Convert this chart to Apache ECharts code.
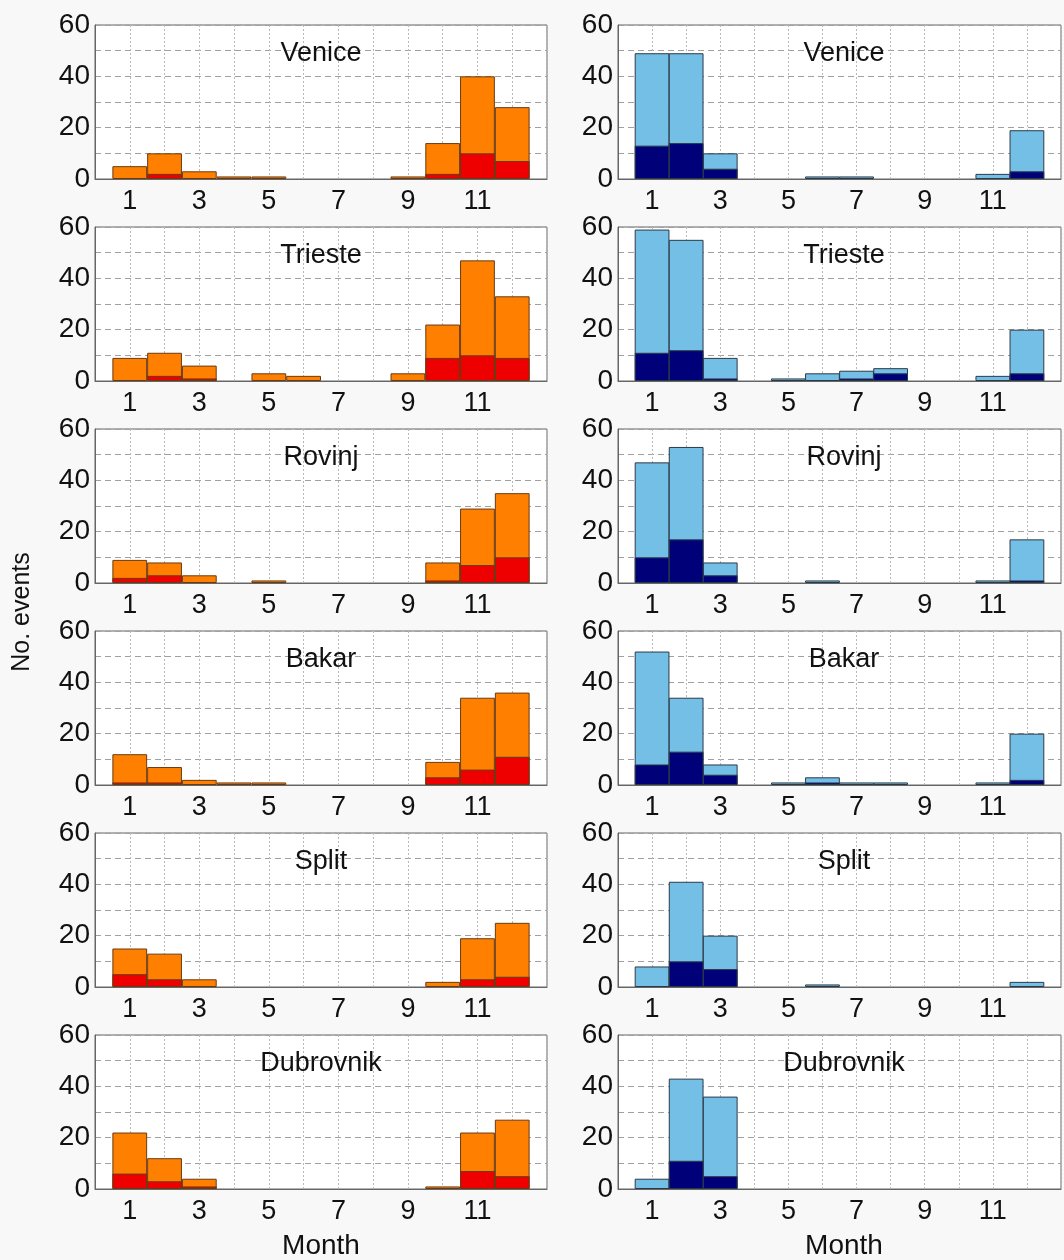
<!DOCTYPE html>
<html>
<head>
<meta charset="utf-8">
<script src="https://cdn.jsdelivr.net/npm/echarts@6/dist/echarts.min.js"></script>
<style>
html,body{margin:0;padding:0;background:#f8f8f8;}
#chart{width:1064px;height:1260px;}
</style>
</head>
<body>
<div id="chart"></div>
<script>
// ---------- DATA ----------
const months = [1,2,3,4,5,6,7,8,9,10,11,12];
const stations = ['Venice','Trieste','Rovinj','Bakar','Split','Dubrovnik'];
const xTickLabels = [1,3,5,7,9,11];
const yTickLabels = [0,20,40,60];

// left column: orange = all events, red = subset
const veniceOrange    = [5,10,3,1,1,0,0,0,1,14,40,28];
const veniceRed       = [0,2,0,0,0,0,0,0,0,2,10,7];
const triesteOrange   = [9,11,6,0,3,2,0,0,3,22,47,33];
const triesteRed      = [0,2,1,0,0,0,0,0,0,9,10,9];
const rovinjOrange    = [9,8,3,0,1,0,0,0,0,8,29,35];
const rovinjRed       = [2,3,0,0,0,0,0,0,0,1,7,10];
const bakarOrange     = [12,7,2,1,1,0,0,0,0,9,34,36];
const bakarRed        = [1,1,0,0,0,0,0,0,0,3,6,11];
const splitOrange     = [15,13,3,0,0,0,0,0,0,2,19,25];
const splitRed        = [5,3,0,0,0,0,0,0,0,0,3,4];
const dubrovnikOrange = [22,12,4,0,0,0,0,0,0,1,22,27];
const dubrovnikRed    = [6,3,1,0,0,0,0,0,0,0,7,5];

// right column: light blue = all events, navy = subset
const veniceBlue      = [49,49,10,0,0,1,1,0,0,0,2,19];
const veniceNavy      = [13,14,4,0,0,0,0,0,0,0,0,3];
const triesteBlue     = [59,55,9,0,1,3,4,5,0,0,2,20];
const triesteNavy     = [11,12,1,0,0,0,1,3,0,0,0,3];
const rovinjBlue      = [47,53,8,0,0,1,0,0,0,0,1,17];
const rovinjNavy      = [10,17,3,0,0,0,0,0,0,0,0,1];
const bakarBlue       = [52,34,8,0,1,3,1,1,0,0,1,20];
const bakarNavy       = [8,13,4,0,0,1,0,0,0,0,0,2];
const splitBlue       = [8,41,20,0,0,1,0,0,0,0,0,2];
const splitNavy       = [0,10,7,0,0,0,0,0,0,0,0,0];
const dubrovnikBlue   = [4,43,36,0,0,0,0,0,0,0,0,0];
const dubrovnikNavy   = [0,11,5,0,0,0,0,0,0,0,0,0];

const leftTotals  = [veniceOrange, triesteOrange, rovinjOrange, bakarOrange, splitOrange, dubrovnikOrange];
const leftSubs    = [veniceRed, triesteRed, rovinjRed, bakarRed, splitRed, dubrovnikRed];
const rightTotals = [veniceBlue, triesteBlue, rovinjBlue, bakarBlue, splitBlue, dubrovnikBlue];
const rightSubs   = [veniceNavy, triesteNavy, rovinjNavy, bakarNavy, splitNavy, dubrovnikNavy];

// ---------- LAYOUT ----------
const FONT = 'Liberation Sans, Arial, Helvetica, sans-serif';
const colLeft = [95, 618];
const gridW = 452;
const gridH = 154;
const rowTop = [25, 227, 429, 631, 833, 1035];
const barW = gridW / 13;

const colors = [
  {total:'#FF8000', sub:'#EE0000', edge:'#6a3a12'},
  {total:'#74BFE6', sub:'#000078', edge:'#2c3a48'}
];

const grids = [], xAxes = [], yAxes = [], series = [], graphics = [];
let idx = 0;
for (let c = 0; c < 2; c++) {
  for (let r = 0; r < 6; r++) {
    grids.push({left: colLeft[c], top: rowTop[r], width: gridW, height: gridH,
      show: true, backgroundColor: '#ffffff', borderColor: '#666', borderWidth: 1});
    xAxes.push({type: 'value', gridIndex: idx, min: 0, max: 13, interval: 1,
      axisLine: {show: true, lineStyle: {color: '#666', width: 1}},
      axisTick: {show: false},
      axisLabel: {fontSize: 27, color: '#111', fontFamily: FONT, margin: 9,
        formatter: v => xTickLabels.indexOf(v) >= 0 ? String(v) : ''},
      splitLine: {show: true, lineStyle: {color: '#b8b8b8', type: [2, 2], width: 1}}
    });
    yAxes.push({type: 'value', gridIndex: idx, min: 0, max: 60, interval: 10,
      axisLine: {show: true, lineStyle: {color: '#666', width: 1}},
      axisTick: {show: false},
      axisLabel: {fontSize: 28, color: '#111', fontFamily: FONT, margin: 5,
        formatter: v => yTickLabels.indexOf(v) >= 0 ? String(v) : ''},
      splitLine: {show: true, lineStyle: {color: '#a0a0a0', type: [6, 4], width: 1}}
    });
    const tot = c === 0 ? leftTotals[r] : rightTotals[r];
    const sub = c === 0 ? leftSubs[r] : rightSubs[r];
    const col = colors[c];
    series.push({type: 'bar', xAxisIndex: idx, yAxisIndex: idx, barWidth: barW, barGap: '-100%',
      data: months.map((m, k) => [m, tot[k] > 0 ? tot[k] : null]),
      itemStyle: {color: col.total, borderColor: col.edge, borderWidth: 1}, silent: true, animation: false});
    series.push({type: 'bar', xAxisIndex: idx, yAxisIndex: idx, barWidth: barW, barGap: '-100%',
      data: months.map((m, k) => [m, sub[k] > 0 ? sub[k] : null]),
      itemStyle: {color: col.sub, borderColor: col.edge, borderWidth: 1}, silent: true, animation: false});
    graphics.push({type: 'text', x: colLeft[c] + gridW / 2, y: rowTop[r] + 29, z: 100,
      style: {text: stations[r], fill: '#111', font: '27px ' + FONT, textAlign: 'center', textVerticalAlign: 'middle'}});
    idx++;
  }
  graphics.push({type: 'text', x: colLeft[c] + gridW / 2, y: 1246,
    style: {text: 'Month', fill: '#111', font: '28px ' + FONT, textAlign: 'center', textVerticalAlign: 'middle'}});
}
graphics.push({type: 'text', x: 22, y: 612, rotation: Math.PI / 2,
  style: {text: 'No. events', fill: '#111', font: '25px ' + FONT, textAlign: 'center', textVerticalAlign: 'middle'}});

const chart = echarts.init(document.getElementById('chart'), null, {renderer: 'canvas'});
chart.setOption({
  backgroundColor: '#f8f8f8',
  animation: false,
  grid: grids, xAxis: xAxes, yAxis: yAxes, series: series, graphic: graphics
});
</script>
</body>
</html>
